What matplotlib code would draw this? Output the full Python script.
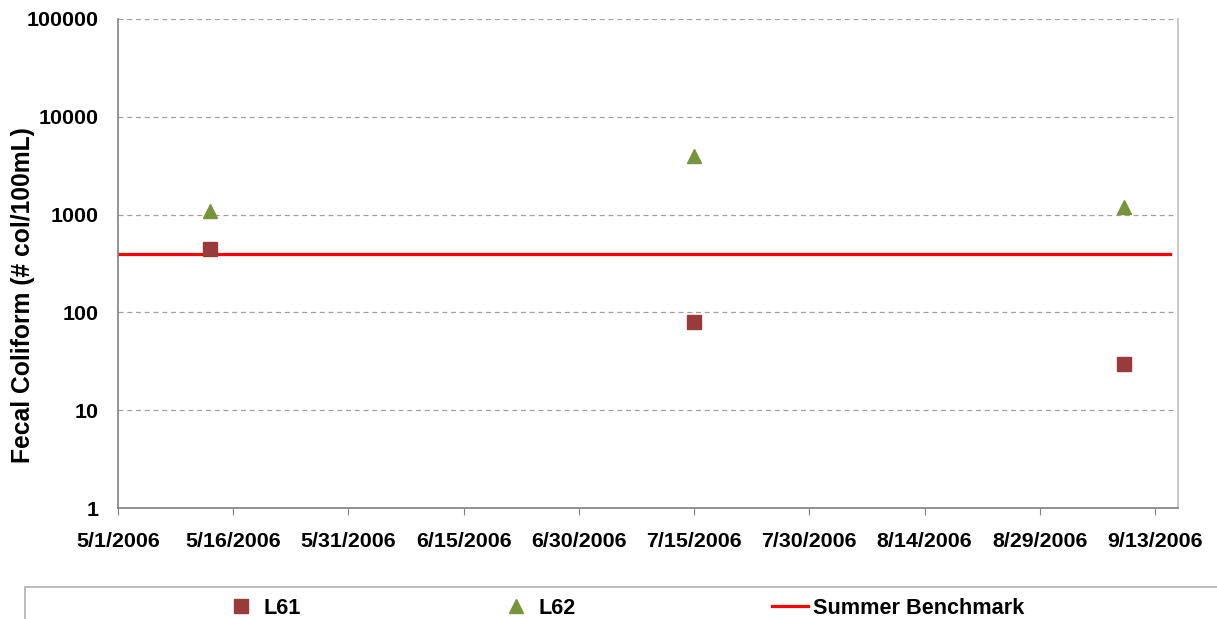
import matplotlib
matplotlib.use("Agg")
import matplotlib.pyplot as plt
import matplotlib.dates as mdates
from matplotlib.patches import Rectangle
from datetime import datetime, timedelta

plt.rcParams['font.family'] = ['Liberation Sans', 'DejaVu Sans']
plt.rcParams['font.weight'] = 'bold'

# data
sample_dates = ['2006-05-13', '2006-07-15', '2006-09-09']
l61 = [450, 80, 30]
l62 = [1100, 4000, 1200]
bench_dates = ['2006-05-01', '2006-09-15']
bench_vals = [400, 400]
tick_dates = ['2006-05-01', '2006-05-16', '2006-05-31', '2006-06-15', '2006-06-30',
              '2006-07-15', '2006-07-30', '2006-08-14', '2006-08-29', '2006-09-13']

to_dt = lambda lst: [datetime.strptime(d, '%Y-%m-%d') for d in lst]

W, H = 1217, 619
fig = plt.figure(figsize=(W/100, H/100), dpi=100)
ax = fig.add_axes([118/W, (H-508)/H, (1178-118)/W, (508-19)/H])

ax.plot(to_dt(bench_dates), bench_vals, color='#ff0000', lw=2.3, zorder=2, label='Summer Benchmark')
ax.plot(to_dt(sample_dates), l61, ls='none', marker='s', ms=9.5, color='#993b3b', zorder=3, label='L61')
ax.plot(to_dt(sample_dates), l62, ls='none', marker='^', ms=10, color='#77933c', zorder=3, label='L62')

ax.set_yscale('log')
ax.set_ylim(1, 100000)
ax.set_yticks([1, 10, 100, 1000, 10000, 100000])
ax.set_yticklabels(['1', '10', '100', '1000', '10000', '100000'])
ax.yaxis.set_minor_locator(matplotlib.ticker.NullLocator())
ax.tick_params(axis='y', length=0, pad=14, labelsize=15.4)
ax.grid(axis='y', color='#a0a0a0', ls=(0, (4, 3)), lw=0.9)

ax.set_xlim(datetime(2006, 5, 1), datetime(2006, 5, 1) + timedelta(days=138))
ax.set_xticks(to_dt(tick_dates))
ax.xaxis.set_major_formatter(matplotlib.ticker.FuncFormatter(
    lambda v, p: '%d/%d/%d' % (mdates.num2date(v).month, mdates.num2date(v).day, mdates.num2date(v).year)))
ax.tick_params(axis='x', length=5, color='#808080', pad=12, labelsize=15.4)

for s in ['left', 'bottom']:
    ax.spines[s].set_color('#808080')
ax.spines['right'].set_color('#c0c0c0')
ax.spines['top'].set_visible(False)
for s in ax.spines.values():
    s.set_linewidth(1.2)

ax.set_ylabel('Fecal Coliform (# col/100mL)', fontsize=17.7, fontweight='bold')
ax.yaxis.set_label_coords(-(118-35)/1060, (508-295)/489)

# legend box
fig.patches.append(Rectangle((25/W, -0.1), 1.0, (H-587)/H + 0.1, transform=fig.transFigure,
                             fill=False, edgecolor='#b0b0b0', lw=1.2))
handles, labels = ax.get_legend_handles_labels()
fs = 15.6
em = fs * 100 / 72.0
spots = {'L61': (241 - em/2, 1.0, 11.6/em),
         'L62': (516 - em/2, 1.0, 11.6/em),
         'Summer Benchmark': (772, 36/em, 5/em)}
for h, l in zip(handles, labels):
    x0, hl, tp = spots[l]
    fig.legend([h], [l], loc='center left', bbox_to_anchor=(x0/W, (H-608)/H), frameon=False,
               fontsize=fs, handlelength=hl, handletextpad=tp, borderpad=0, borderaxespad=0)

fig.savefig('out.png', dpi=100)
